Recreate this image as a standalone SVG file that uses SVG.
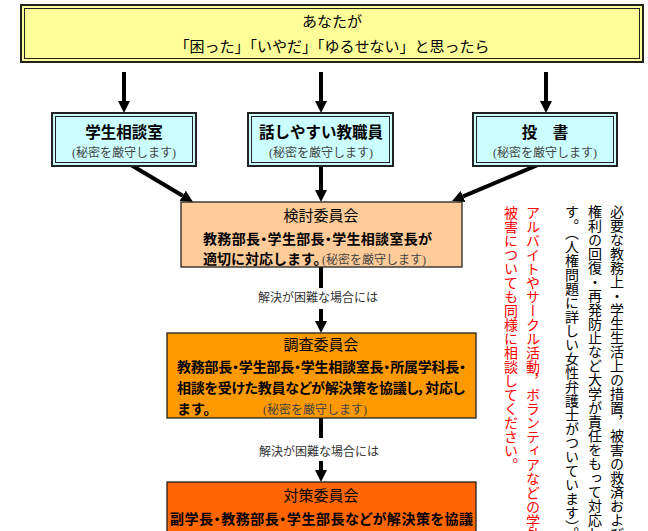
<svg xmlns="http://www.w3.org/2000/svg" width="648" height="531" viewBox="0 0 648 531">
<style>
text{font-family:"Noto Sans CJK JP","Noto Sans CJK SC",sans-serif;fill:#000}
.t15{font-size:15px}
.tt{font-size:15.5px;font-weight:bold}
.b14{font-size:14px;font-weight:bold}
.note{font-family:"Liberation Serif","Noto Sans CJK JP",serif;font-size:12px;fill:#444}
.lbl{font-family:"Liberation Serif","Noto Sans CJK JP",serif;font-size:12px;fill:#333}
.palt{font-feature-settings:"palt" 1}
.outer{stroke:#222;stroke-width:2}
.inner{fill:none;stroke:#222;stroke-width:1}
.box{stroke:#222;stroke-width:1.3}
.conn{stroke:#000;stroke-width:4;fill:none}
.vt{writing-mode:vertical-rl;font-size:14px}
.red{fill:#FF0000}
</style>
<defs>
<marker id="ah" viewBox="0 0 12 12" refX="0" refY="6" markerWidth="12" markerHeight="12" markerUnits="userSpaceOnUse" orient="auto">
<path d="M0,0 L12,6 L0,12 z" fill="#000"/>
</marker>
</defs>
<rect width="648" height="531" fill="#fff"/>

<g id="connectors">
<line class="conn" x1="124" y1="72" x2="124" y2="101" marker-end="url(#ah)"/>
<line class="conn" x1="321" y1="72" x2="321" y2="101" marker-end="url(#ah)"/>
<line class="conn" x1="546" y1="72" x2="546" y2="101" marker-end="url(#ah)"/>
<line class="conn" x1="126" y1="162" x2="182.7" y2="195.8" marker-end="url(#ah)"/>
<line class="conn" x1="321" y1="164" x2="321" y2="190" marker-end="url(#ah)"/>
<line class="conn" x1="545" y1="162" x2="463.1" y2="196.4" marker-end="url(#ah)"/>
<line class="conn" x1="321" y1="267" x2="321" y2="288"/>
<text class="lbl" x="318" y="302" text-anchor="middle">解決が困難な場合には</text>
<line class="conn" x1="321" y1="309" x2="321" y2="321" marker-end="url(#ah)"/>
<line class="conn" x1="321" y1="418" x2="321" y2="438"/>
<text class="lbl" x="319" y="456" text-anchor="middle">解決が困難な場合には</text>
<line class="conn" x1="321" y1="461" x2="321" y2="470" marker-end="url(#ah)"/>
</g>

<g id="start">
<rect class="outer" x="21" y="5" width="622" height="57" fill="#FFFF99"/>
<rect class="inner" x="24.5" y="8.5" width="615" height="50"/>
<text class="t15" x="332" y="27" text-anchor="middle">あなたが</text>
<text class="t15" x="332" y="52" text-anchor="middle">「困った」「いやだ」「ゆるせない」と思ったら</text>
</g>

<g id="soudanshitsu">
<rect class="outer" x="52" y="113" width="144" height="53" fill="#CCFFFF"/>
<rect class="inner" x="55.5" y="116.5" width="137" height="46"/>
<text class="tt" x="124" y="138" text-anchor="middle">学生相談室</text>
<text class="note" x="124" y="157" text-anchor="middle">(秘密を厳守します)</text>
</g>

<g id="kyoshokuin">
<rect class="outer" x="248" y="113" width="145" height="53" fill="#CCFFFF"/>
<rect class="inner" x="251.5" y="116.5" width="138" height="46"/>
<text class="tt" x="321" y="138" text-anchor="middle">話しやすい教職員</text>
<text class="note" x="321" y="157" text-anchor="middle">(秘密を厳守します)</text>
</g>

<g id="tousho">
<rect class="outer" x="473" y="113" width="144" height="53" fill="#CCFFFF"/>
<rect class="inner" x="476.5" y="116.5" width="137" height="46"/>
<text class="tt" x="545" y="138" text-anchor="middle" xml:space="preserve">投　書</text>
<text class="note" x="545" y="157" text-anchor="middle">(秘密を厳守します)</text>
</g>

<g id="kentou">
<rect class="box" x="181" y="202" width="281" height="65" fill="#FFCC99"/>
<text class="t15" x="321" y="221" text-anchor="middle">検討委員会</text>
<text class="b14 palt" x="203" y="244" textLength="229" lengthAdjust="spacing">教務部長・学生部長・学生相談室長が</text>
<text class="b14" x="203" y="264">適切に対応します。</text>
<text class="note" x="322" y="264">(秘密を厳守します)</text>
</g>

<g id="chousa">
<rect class="box" x="167" y="333" width="309" height="85" fill="#FF9900"/>
<text class="t15" x="321" y="350" text-anchor="middle">調査委員会</text>
<text class="b14 palt" x="177" y="372" textLength="289" lengthAdjust="spacing">教務部長・学生部長・学生相談室長・所属学科長・</text>
<text class="b14 palt" x="177" y="393" textLength="288" lengthAdjust="spacing">相談を受けた教員などが解決策を協議し，対応し</text>
<text class="b14" x="177" y="414">ます。</text>
<text class="note" x="263" y="414">(秘密を厳守します)</text>
</g>

<g id="taisaku">
<rect class="box" x="167" y="482" width="309" height="70" fill="#FF6600"/>
<text class="t15" x="321" y="501" text-anchor="middle">対策委員会</text>
<text class="b14 palt" x="170" y="524" textLength="303" lengthAdjust="spacing">副学長・教務部長・学生部長などが解決策を協議</text>
<text class="b14" x="170" y="545">し，対応します。</text>
<text class="note" x="304" y="545">(秘密を厳守します)</text>
</g>

<g id="side-note">
<text class="vt" x="617" y="205">必要な教務上・学生生活上の措置，被害の救済および</text>
<text class="vt" x="595" y="205">権利の回復・再発防止など大学が責任をもって対応します。</text>
<text class="vt" x="572" y="205">す。（人権問題に詳しい女性弁護士がついています）。</text>
<text class="vt red" x="533" y="206">アルバイトやサークル活動，ボランティアなどの学外</text>
<text class="vt red" x="511" y="206">被害についても同様に相談してください。</text>
</g>
</svg>
